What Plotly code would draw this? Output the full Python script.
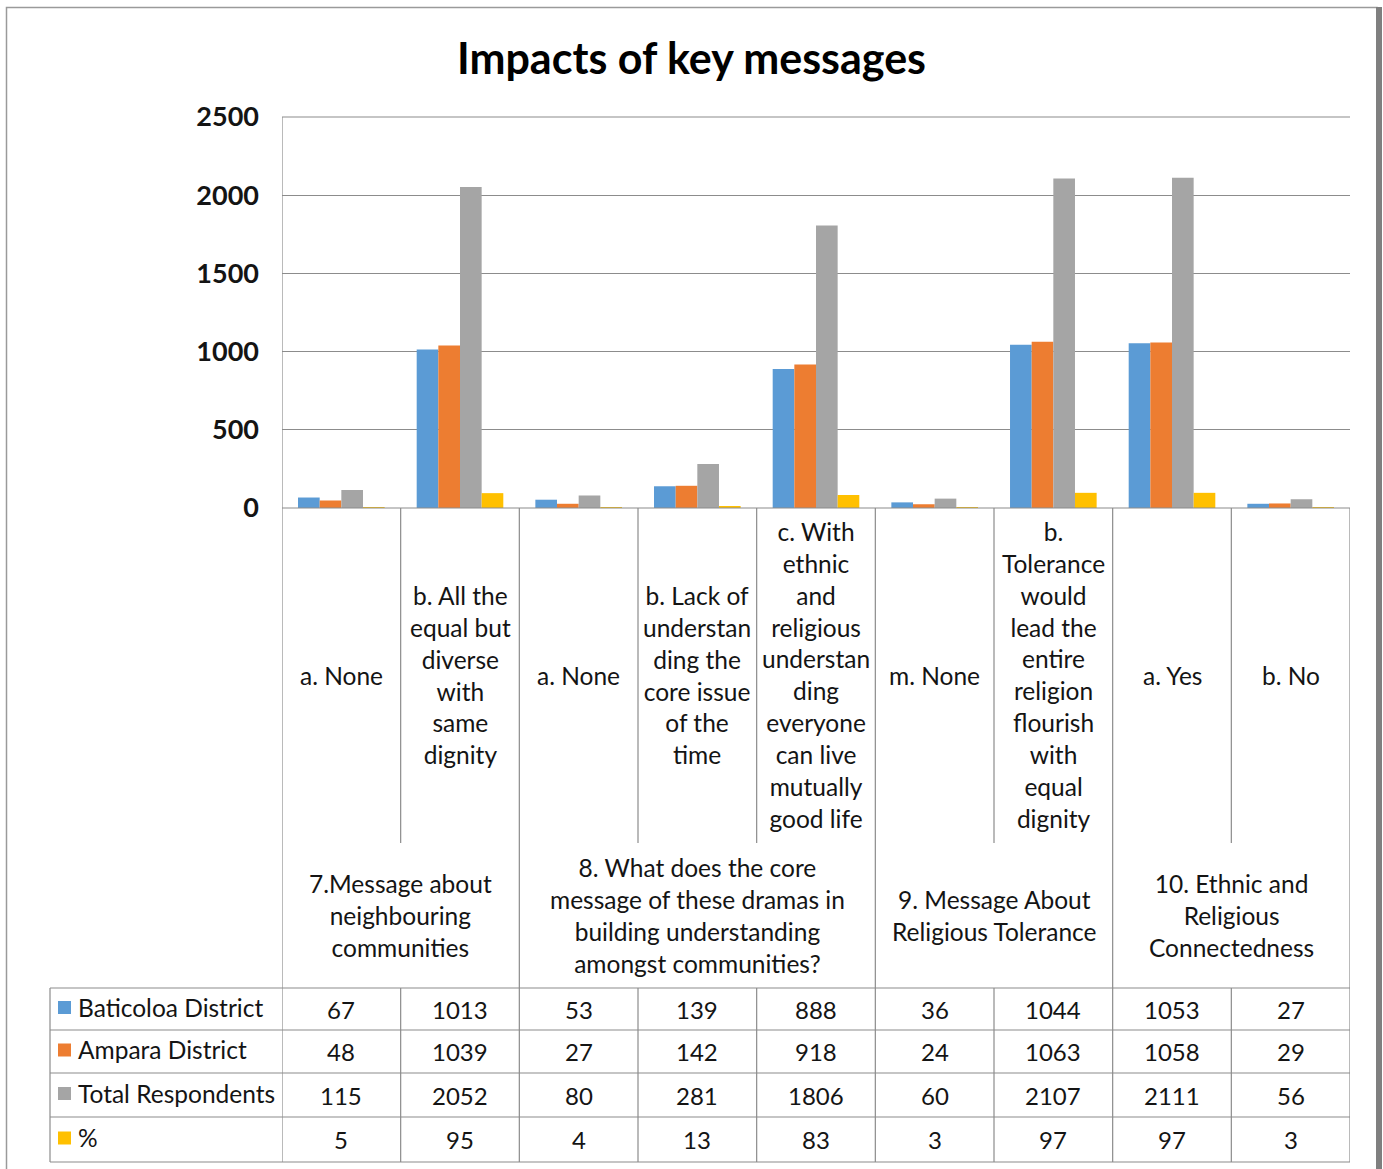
import plotly.graph_objects as go

# ---------------- data ----------------
categories = [
    "a. None",
    "b. All the<br>equal but<br>diverse<br>with<br>same<br>dignity",
    "a. None",
    "b. Lack of<br>understan<br>ding the<br>core issue<br>of the<br>time",
    "c. With<br>ethnic<br>and<br>religious<br>understan<br>ding<br>everyone<br>can live<br>mutually<br>good life",
    "m. None",
    "b.<br>Tolerance<br>would<br>lead the<br>entire<br>religion<br>flourish<br>with<br>equal<br>dignity",
    "a. Yes",
    "b. No",
]
groups = [
    "7.Message about<br>neighbouring<br>communities",
    "8. What does the core<br>message of these dramas in<br>building understanding<br>amongst communities?",
    "9. Message About<br>Religious Tolerance",
    "10. Ethnic and<br>Religious<br>Connectedness",
]
group_sizes = [2, 3, 2, 2]

series_names = ["Baticoloa District", "Ampara District", "Total Respondents", "%"]
baticaloa = [67, 1013, 53, 139, 888, 36, 1044, 1053, 27]
ampara = [48, 1039, 27, 142, 918, 24, 1063, 1058, 29]
total = [115, 2052, 80, 281, 1806, 60, 2107, 2111, 56]
percent = [5, 95, 4, 13, 83, 3, 97, 97, 3]
series_values = [baticaloa, ampara, total, percent]
colors = ["#5B9BD5", "#ED7D31", "#A5A5A5", "#FFC000"]
y_ticks = [0, 500, 1000, 1500, 2000, 2500]

# ---------------- layout helpers ----------------
W, H = 1383, 1169
FONT = "Lato"
LINE = "#8c8c8c"
TXT = "#141414"


def py(p):
    return 1 - p / H


def px(p):
    return p / W


n = len(categories)
x_idx = list(range(n))
plot_left, plot_right = 282, 1350
plot_top, plot_bottom = 117, 508

fig = go.Figure()
for name, vals, col in zip(series_names, series_values, colors):
    fig.add_trace(go.Bar(x=x_idx, y=vals, name=name, marker=dict(color=col, line=dict(width=0))))

shapes = []
annotations = []


def hline(y, x0, x1, xref="paper"):
    shapes.append(dict(type="line", xref=xref, yref="paper", x0=x0, x1=x1, y0=py(y), y1=py(y),
                       line=dict(color=LINE, width=1.2)))


def vline(x, y0, y1, xref="x"):
    shapes.append(dict(type="line", xref=xref, yref="paper", x0=x, x1=x, y0=py(y0), y1=py(y1),
                       line=dict(color=LINE, width=1.2)))


# table geometry
cat_bottom = 843
grp_bottom = 988
rows = [988, 1030, 1073, 1117, 1162]

hline(plot_top, px(plot_left), px(plot_right))
hline(plot_bottom, px(plot_left), px(plot_right))
for r in rows:
    hline(r, px(50), px(plot_right))
vline(px(50), rows[0], rows[-1], xref="paper")
vline(-0.5, plot_top, rows[-1])
bounds = []
acc = 0
for g in group_sizes:
    acc += g
    bounds.append(acc)
for i in range(1, n + 1):
    xb = i - 0.5
    if i in bounds:
        vline(xb, plot_bottom, rows[-1])
    else:
        vline(xb, plot_bottom, cat_bottom)
        vline(xb, rows[0], rows[-1])

# category labels
for i, lab in enumerate(categories):
    annotations.append(dict(x=i, xref="x", y=py((plot_bottom + cat_bottom) / 2), yref="paper",
                            text=lab, showarrow=False, xanchor="center", yanchor="middle",
                            align="center", font=dict(family=FONT, size=24.5, color=TXT)))
# group labels
start = 0
for g, size in zip(groups, group_sizes):
    center = start + (size - 1) / 2
    annotations.append(dict(x=center, xref="x", y=py((cat_bottom + grp_bottom) / 2), yref="paper",
                            text=g, showarrow=False, xanchor="center", yanchor="middle",
                            align="center", font=dict(family=FONT, size=24.5, color=TXT)))
    start += size

# data rows
for r, (name, vals, col) in enumerate(zip(series_names, series_values, colors)):
    yc = (rows[r] + rows[r + 1]) / 2
    shapes.append(dict(type="rect", xref="paper", yref="paper", x0=px(58), x1=px(71),
                       y0=py(yc - 8), y1=py(yc + 5), fillcolor=col, line=dict(width=0)))
    annotations.append(dict(x=px(76), xref="paper", y=py(yc - 2), yref="paper", text=name,
                            showarrow=False, xanchor="left", yanchor="middle",
                            font=dict(family=FONT, size=24.5, color=TXT)))
    for i, v in enumerate(vals):
        annotations.append(dict(x=i, xref="x", y=py(yc), yref="paper", text=str(v),
                                showarrow=False, xanchor="center", yanchor="middle",
                                font=dict(family=FONT, size=24, color=TXT)))

# title
annotations.append(dict(x=px(691), xref="paper", y=py(58), yref="paper",
                        text="<b>Impacts of key messages</b>", showarrow=False,
                        xanchor="center", yanchor="middle",
                        font=dict(family=FONT, size=43, color="#000")))

# outer chart border
shapes.append(dict(type="rect", xref="paper", yref="paper", x0=px(6.5), x1=px(1377),
                   y0=py(1180), y1=py(7.5), line=dict(color="#9a9a9a", width=1.5)))
shapes.append(dict(type="rect", xref="paper", yref="paper", x0=px(1376), x1=px(1382),
                   y0=py(1180), y1=py(7), fillcolor="#7f7f7f", line=dict(width=0)))

fig.update_layout(
    width=W, height=H,
    margin=dict(l=0, r=0, t=0, b=0, autoexpand=False),
    paper_bgcolor="white", plot_bgcolor="white",
    showlegend=False,
    barmode="group", bargap=0.27, bargroupgap=0,
    xaxis=dict(domain=[px(plot_left), px(plot_right)], range=[-0.5, n - 0.5],
               showticklabels=False, showgrid=False, zeroline=False, showline=False,
               automargin=False),
    yaxis=dict(domain=[py(plot_bottom), py(plot_top)], range=[0, 2500],
               tickvals=y_ticks, ticktext=[str(t) for t in y_ticks],
               showgrid=True, gridcolor=LINE, gridwidth=1.2, zeroline=False, showline=False,
               ticks="", ticklabelstandoff=22, automargin=False,
               tickfont=dict(family=FONT, size=27, color=TXT, weight="bold")),
    shapes=shapes,
    annotations=annotations,
    font=dict(family=FONT),
)

fig.write_html("out.html")
